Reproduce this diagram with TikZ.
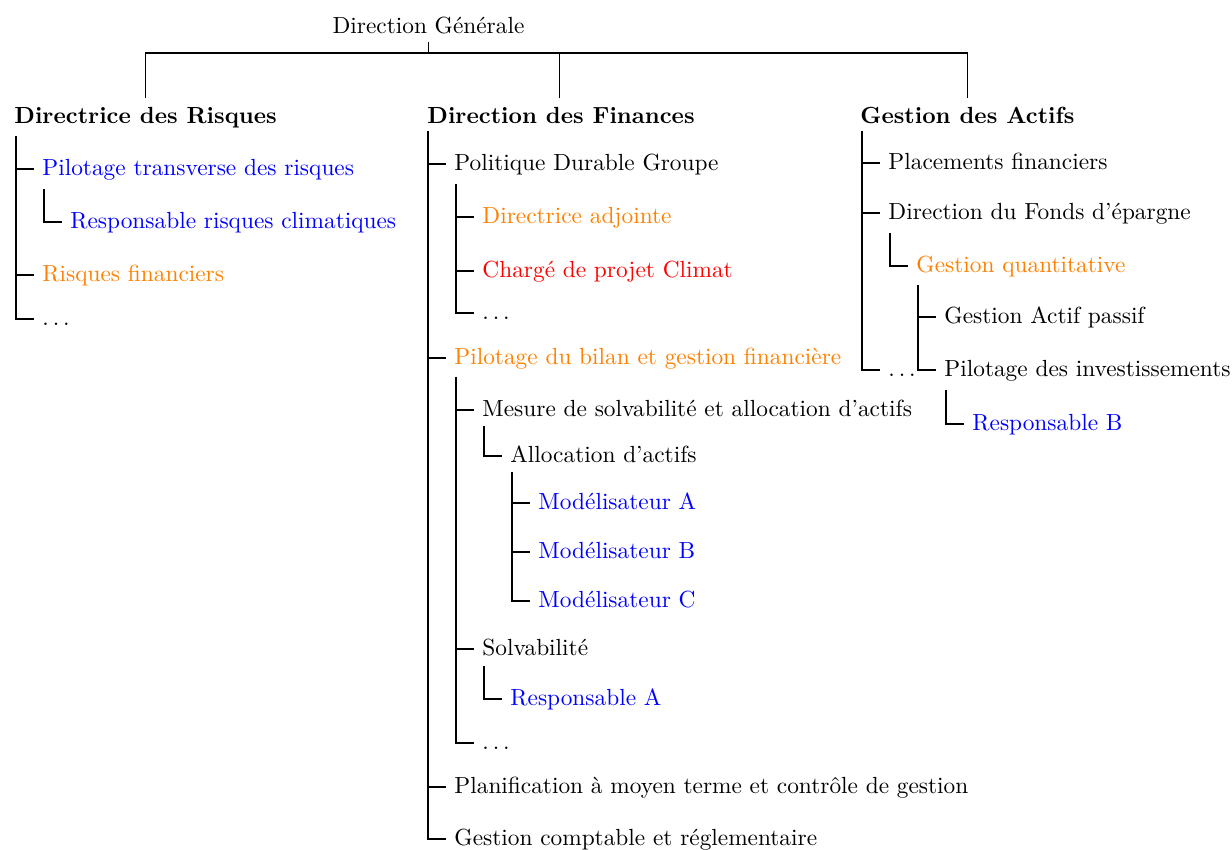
\documentclass[tikz,border=0pt]{standalone}
\usepackage{fontspec}
\usetikzlibrary{calc}
\begin{document}
\begin{tikzpicture}[x=0.4286pt,y=-0.4286pt,
  item/.style={anchor=west,inner sep=0pt,text height=7.5pt,text depth=2pt},
  head/.style={anchor=base west,inner sep=0pt,font=\bfseries},
  tree/.style={line width=0.8pt},
  topline/.style={line width=0.7pt},
  cb/.style={text=blue},
  co/.style={text=orange},
  cr/.style={text=red}]
\useasboundingbox (0,0) rectangle (1232,850);
\def\gp{3.43pt}
\def\dd{$\ldots$}
% top
\node[anchor=base,inner sep=0pt] (DG) at (428.5,33.3) {Direction Générale};
\node[head] (R) at (14,124) {Directrice des Risques};
\node[head] (F) at (427,124) {Direction des Finances};
\node[head] (A) at (860,124) {Gestion des Actifs};
\coordinate (bar) at (428,52.7);
\draw[topline] ([yshift=4pt]R.north) |- (bar) -| ([yshift=4pt]A.north);
\draw[topline] ([xshift=-0.7pt,yshift=4pt]F.north) -- ([xshift=-0.7pt]F.north |- bar);
\draw[topline] ([yshift=-3.4pt]DG.south) -- (DG.south |- bar);

% Risques
\coordinate (vR) at (16,136);
\node[item,cb] (r1) at (42,169.3) {Pilotage transverse des risques};
\coordinate (vR1) at (44,189);
\node[item,cb] (r1a) at (70,221.7) {Responsable risques climatiques};
\node[item,co] (r2) at (42,275) {Risques financiers};
\node[item] (r3) at (42,319) {\dd};
\foreach \c in {r1,r2,r3} \draw[tree] (vR) |- ([xshift=-\gp]\c.west);
\draw[tree] (vR1) |- ([xshift=-\gp]r1a.west);

% Finances
\coordinate (vF) at (428,131.5);
\node[item] (f1) at (454,164.3) {Politique Durable Groupe};
\coordinate (vF1) at (456,184);
\node[item,co] (f1a) at (482,216.7) {Directrice adjointe};
\node[item,cr] (f1b) at (482,270.7) {Chargé de projet Climat};
\node[item] (f1c) at (482,313.3) {\dd};
\node[item,co] (f2) at (454,358.3) {Pilotage du bilan et gestion financière};
\coordinate (vF2) at (456,377);
\node[item] (f2a) at (482,410) {Mesure de solvabilité et allocation d'actifs};
\coordinate (vF2a) at (484,426);
\node[item] (f2a1) at (510,456) {Allocation d'actifs};
\coordinate (vF2a1) at (512,472);
\node[item,cb] (mA) at (538,503.3) {Modélisateur A};
\node[item,cb] (mB) at (538,551.7) {Modélisateur B};
\node[item,cb] (mC) at (538,600.7) {Modélisateur C};
\node[item] (f2b) at (482,649) {Solvabilité};
\coordinate (vF2b) at (484,666);
\node[item,cb] (f2b1) at (510,699.3) {Responsable A};
\node[item] (f2c) at (482,742.7) {\dd};
\node[item] (f3) at (454,786.7) {Planification à moyen terme et contrôle de gestion};
\node[item] (f4) at (454,839.3) {Gestion comptable et réglementaire};
\foreach \c in {f1,f2,f3,f4} \draw[tree] (vF) |- ([xshift=-\gp]\c.west);
\foreach \c in {f1a,f1b,f1c} \draw[tree] (vF1) |- ([xshift=-\gp]\c.west);
\foreach \c in {f2a,f2b,f2c} \draw[tree] (vF2) |- ([xshift=-\gp]\c.west);
\draw[tree] (vF2a) |- ([xshift=-\gp]f2a1.west);
\foreach \c in {mA,mB,mC} \draw[tree] (vF2a1) |- ([xshift=-\gp]\c.west);
\draw[tree] (vF2b) |- ([xshift=-\gp]f2b1.west);

% Actifs
\coordinate (vA) at (862,131.5);
\node[item] (a1) at (888,163.3) {Placements financiers};
\node[item] (a2) at (888,212.7) {Direction du Fonds d'épargne};
\coordinate (vA2) at (890,233);
\node[item,co] (a2a) at (916,265.7) {Gestion quantitative};
\coordinate (vA2a) at (918,285);
\node[item] (a2a1) at (944,317.3) {Gestion Actif passif};
\node[item] (a2a2) at (944,370) {Pilotage des investissements};
\coordinate (vA2a2) at (946,390);
\node[item,cb] (a2a2a) at (972,424) {Responsable B};
\node[item] (a3) at (888,370) {\dd};
\foreach \c in {a1,a2,a3} \draw[tree] (vA) |- ([xshift=-\gp]\c.west);
\draw[tree] (vA2) |- ([xshift=-\gp]a2a.west);
\foreach \c in {a2a1,a2a2} \draw[tree] (vA2a) |- ([xshift=-\gp]\c.west);
\draw[tree] (vA2a2) |- ([xshift=-\gp]a2a2a.west);
\end{tikzpicture}
\end{document}
